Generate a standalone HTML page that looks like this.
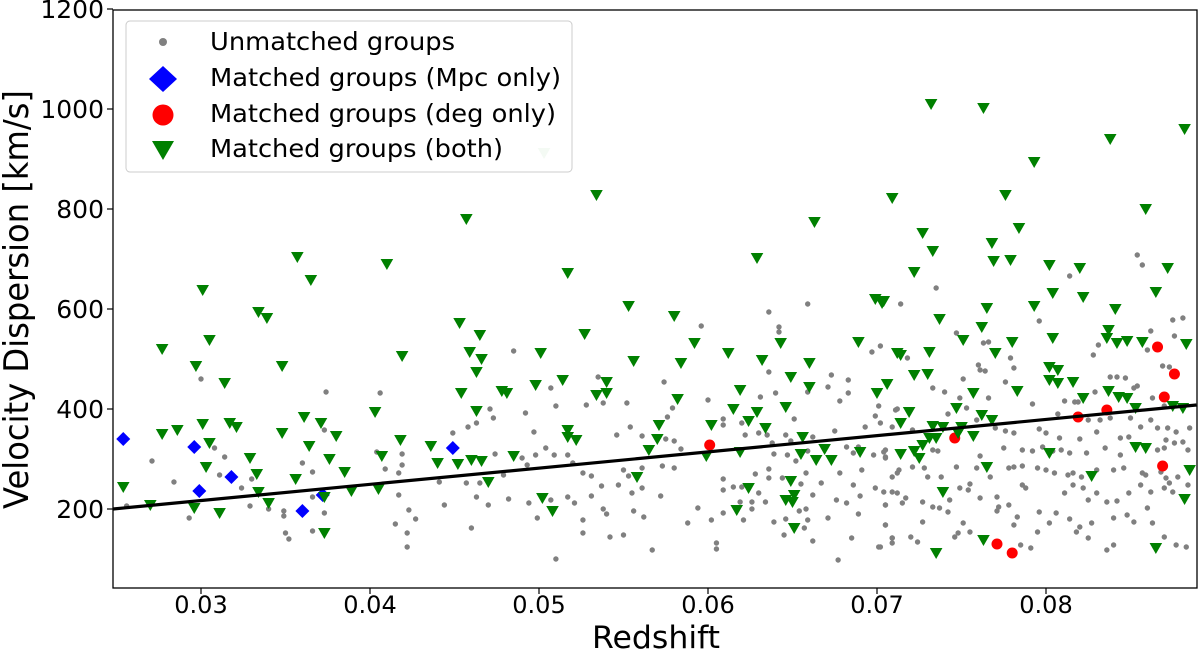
<!DOCTYPE html>
<html><head><meta charset="utf-8"><style>
html,body{margin:0;padding:0;background:#fff;}
svg{display:block;font-family:"DejaVu Sans","Liberation Sans",sans-serif;}
</style></head><body>
<svg id="chart" width="1200" height="652" viewBox="0 0 1200 652">
<rect x="113" y="10" width="1084" height="578" fill="#fff"/>
<g id="grayG"></g>
<g id="blueG"></g>
<g id="redG"></g>
<g id="greenG"></g>
<g id="lineG"></g>
<rect x="113" y="10" width="1084" height="578" fill="none" stroke="#000" stroke-width="1.3"/>
<g id="axes"></g>
<text x="592" y="648" font-size="31" textLength="128" lengthAdjust="spacingAndGlyphs">Redshift</text>
<text transform="translate(28,509) rotate(-90)" font-size="34" textLength="419" lengthAdjust="spacingAndGlyphs">Velocity Dispersion [km/s]</text>
<g>
<rect x="126" y="21" width="446" height="151" rx="4" fill="#fff" fill-opacity="0.8" stroke="#ccc"/>
<circle cx="163" cy="42" r="4" fill="#808080"/>
<text x="210" y="50" font-size="24.5" textLength="245" lengthAdjust="spacingAndGlyphs">Unmatched groups</text>
<path d="M163,66 L177,79 L163,92 L149,79 Z" fill="#0000ff"/>
<text x="210" y="86" font-size="24.5" textLength="351" lengthAdjust="spacingAndGlyphs">Matched groups (Mpc only)</text>
<circle cx="163" cy="115" r="10.5" fill="#ff0000"/>
<text x="210" y="122" font-size="24.5" textLength="346" lengthAdjust="spacingAndGlyphs">Matched groups (deg only)</text>
<path d="M152,141 L174,141 L163,160 Z" fill="#008000"/>
<text x="210" y="157" font-size="24.5" textLength="293" lengthAdjust="spacingAndGlyphs">Matched groups (both)</text>
</g>
</svg>
<script>
const xTicks=[0.03,0.04,0.05,0.06,0.07,0.08];
const xTickLabels=["0.03","0.04","0.05","0.06","0.07","0.08"];
const yTicks=[200,400,600,800,1000,1200];
const yTickLabels=["200","400","600","800","1000","1200"];
const fitZ=[0.0248,0.0889];
const fitV=[200,408];
const blueZ=[0.0254,0.0296,0.0299,0.0318,0.036,0.0372,0.0449];
const blueV=[340,324,236,264,196,228,322];
const redZ=[0.0601,0.0746,0.0771,0.078,0.0819,0.0836,0.0866,0.0876,0.087,0.0869];
const redV=[328,342,130,112,384,398,524,470,424,286];
const greenPts=[
[0.0732,1010],[0.0763,1002],[0.0882,960],[0.0838,940],[0.0793,894],[0.0709,822],[0.0776,828],[0.0859,800],[0.0727,752],[0.0784,762],[0.0733,716],[0.0768,732],[0.0769,696],[0.0779,698],[0.0722,674],[0.0802,688],[0.082,682],[0.0872,682],[0.0704,616],[0.0804,632],[0.0822,624],[0.0865,634],[0.0765,602],[0.0793,606],[0.0841,600],[0.0737,580],[0.0762,564],[0.0837,558],[0.0751,538],[0.078,534],[0.0804,542],[0.0836,542],[0.0842,532],[0.0848,536],[0.0857,534],[0.0883,530],[0.0714,508],[0.0731,514],[0.077,512],[0.0722,468],[0.073,470],[0.0706,450],[0.0802,484],[0.0807,478],[0.0802,458],[0.0807,452],[0.0816,454],[0.0757,432],[0.0783,436],[0.0837,436],[0.0822,422],[0.0843,424],[0.0848,422],[0.0719,394],[0.0747,402],[0.0762,388],[0.0768,378],[0.0714,372],[0.0733,366],[0.0739,364],[0.075,364],[0.0748,352],[0.0853,402],[0.0875,406],[0.0881,402],[0.0731,342],[0.0735,342],[0.0727,328],[0.0757,346],[0.0714,310],[0.0722,316],[0.0725,302],[0.0802,312],[0.0853,324],[0.0859,322],[0.0765,284],[0.0827,266],[0.0885,278],[0.0739,234],[0.0882,220],[0.0763,138],[0.0735,112],[0.0865,122],
[0.0534,828],[0.0663,774],[0.0629,702],[0.0517,672],[0.0553,606],[0.058,586],[0.0699,620],[0.0703,612],[0.0527,550],[0.0592,532],[0.0612,512],[0.0643,532],[0.0689,534],[0.0712,512],[0.0556,496],[0.0584,492],[0.0632,498],[0.066,492],[0.0514,458],[0.054,454],[0.0534,428],[0.054,432],[0.0649,464],[0.0619,438],[0.066,444],[0.07,432],[0.0582,420],[0.0615,400],[0.0629,394],[0.0646,404],[0.0624,376],[0.0571,368],[0.0602,368],[0.0634,362],[0.0517,358],[0.0517,344],[0.0522,338],[0.057,340],[0.0656,344],[0.0565,318],[0.0599,306],[0.0619,314],[0.0655,310],[0.0664,298],[0.0669,320],[0.0673,298],[0.069,314],[0.0558,264],[0.0649,256],[0.0624,242],[0.0651,228],[0.0646,218],[0.065,214],[0.0617,198],[0.0651,162],
[0.0457,780],[0.0357,704],[0.041,690],[0.0365,658],[0.0301,638],[0.0334,594],[0.0339,582],[0.0453,572],[0.0465,548],[0.0305,538],[0.0277,520],[0.0459,514],[0.0466,500],[0.0419,506],[0.0501,512],[0.0297,486],[0.0348,486],[0.0463,474],[0.0314,452],[0.0498,448],[0.0454,432],[0.0478,436],[0.0481,432],[0.0403,394],[0.0463,396],[0.0361,384],[0.0301,370],[0.0317,372],[0.0321,364],[0.0371,372],[0.0277,350],[0.0286,358],[0.0348,352],[0.038,346],[0.0418,338],[0.0305,332],[0.0364,326],[0.0436,326],[0.0407,306],[0.0329,302],[0.0376,300],[0.044,292],[0.0452,290],[0.046,298],[0.0466,296],[0.0485,306],[0.0303,284],[0.0333,270],[0.0385,274],[0.0356,260],[0.047,254],[0.0254,244],[0.0334,234],[0.0389,236],[0.0405,240],[0.0373,224],[0.034,212],[0.027,208],[0.0296,202],[0.0311,192],[0.0502,222],[0.0508,196],[0.0373,152]
];
const fadedGreen=[[0.0503,912]];
const grayPts=[
[0.03,460],[0.0374,434],[0.0406,432],[0.0485,516],[0.0507,442],[0.051,406],[0.0471,400],[0.0473,382],[0.0463,372],[0.0458,364],[0.0449,352],[0.0492,392],[0.0497,354],[0.0504,322],[0.0498,308],[0.0509,308],[0.0474,310],[0.049,302],[0.0493,288],[0.0479,268],[0.0457,252],[0.0465,252],[0.0441,254],[0.0463,224],[0.047,208],[0.0482,220],[0.0494,212],[0.0499,182],[0.0507,218],[0.0444,208],[0.046,162],[0.051,100],[0.0419,310],[0.0419,288],[0.0409,280],[0.0417,272],[0.0417,228],[0.0423,198],[0.0427,180],[0.0415,170],[0.0422,152],[0.0422,124],[0.0404,314],[0.0373,358],[0.036,292],[0.0366,274],[0.0366,224],[0.0373,192],[0.0366,156],[0.035,152],[0.0352,140],[0.0349,196],[0.0349,186],[0.034,200],[0.0329,206],[0.0324,242],[0.033,260],[0.0314,304],[0.0311,268],[0.0308,322],[0.0284,254],[0.0271,296],[0.0293,182],[0.0256,206],
[0.0659,610],[0.0636,594],[0.0642,564],[0.0642,554],[0.0596,566],[0.0636,474],[0.0673,468],[0.0683,458],[0.0702,526],[0.0697,514],[0.0574,454],[0.0535,464],[0.0528,408],[0.0552,412],[0.0538,412],[0.0579,402],[0.0576,384],[0.06,418],[0.0631,424],[0.064,432],[0.0659,434],[0.0671,444],[0.0683,432],[0.0678,416],[0.0651,380],[0.0609,380],[0.0609,368],[0.062,372],[0.0554,364],[0.0546,348],[0.0561,346],[0.0575,340],[0.058,336],[0.0584,320],[0.0622,348],[0.063,352],[0.0635,348],[0.0646,348],[0.0662,344],[0.0638,332],[0.0649,336],[0.0675,356],[0.0693,364],[0.0699,386],[0.0701,406],[0.0712,400],[0.0698,308],[0.0705,304],[0.0704,314],[0.0682,324],[0.0689,324],[0.0686,312],[0.0639,310],[0.0647,308],[0.0652,296],[0.0659,316],[0.0517,308],[0.052,292],[0.0526,272],[0.0531,266],[0.055,278],[0.0553,266],[0.0561,282],[0.0573,286],[0.058,282],[0.0517,224],[0.0521,212],[0.0531,226],[0.0537,246],[0.0547,248],[0.0555,232],[0.0561,242],[0.0538,200],[0.054,190],[0.0556,196],[0.0562,184],[0.0526,178],[0.0526,152],[0.0542,144],[0.055,148],[0.0567,118],[0.0572,226],[0.0588,172],[0.0594,202],[0.0602,178],[0.0605,132],[0.0605,120],[0.0609,260],[0.0609,238],[0.0615,244],[0.062,244],[0.0619,214],[0.0626,214],[0.0626,200],[0.0621,178],[0.0609,192],[0.0628,270],[0.063,232],[0.0634,214],[0.0636,280],[0.0636,262],[0.0639,174],[0.0644,262],[0.0646,180],[0.0645,148],[0.0655,250],[0.0654,196],[0.0658,200],[0.0659,178],[0.0657,162],[0.0662,136],[0.0662,228],[0.0658,272],[0.0667,252],[0.0671,182],[0.0676,218],[0.0682,212],[0.0686,248],[0.069,226],[0.0689,190],[0.0685,142],[0.0677,98],[0.0678,272],[0.0691,278],[0.0699,242],[0.0705,208],[0.0705,168],[0.0709,142],[0.0701,124],[0.0712,232],[0.0712,272],
[0.0854,708],[0.0857,688],[0.0814,666],[0.0735,642],[0.0714,610],[0.0796,576],[0.0875,578],[0.0881,582],[0.0747,552],[0.0763,532],[0.0766,534],[0.0862,556],[0.0876,546],[0.0831,528],[0.0828,508],[0.086,518],[0.0869,486],[0.0873,484],[0.0718,502],[0.0779,502],[0.0781,482],[0.076,488],[0.0761,478],[0.0764,476],[0.0838,464],[0.0842,464],[0.0847,462],[0.0751,460],[0.0776,454],[0.0733,442],[0.074,434],[0.0829,434],[0.0852,442],[0.0854,446],[0.0749,422],[0.0766,422],[0.0792,410],[0.0811,416],[0.0817,414],[0.0819,414],[0.0836,402],[0.0863,422],[0.087,406],[0.0711,398],[0.0742,390],[0.0753,402],[0.0759,378],[0.0807,390],[0.0825,378],[0.0832,378],[0.0838,382],[0.085,382],[0.0862,378],[0.0885,362],[0.0702,372],[0.0709,364],[0.0721,358],[0.077,362],[0.0776,356],[0.0781,352],[0.0796,360],[0.08,352],[0.0808,342],[0.082,340],[0.083,354],[0.0844,342],[0.0849,344],[0.0856,364],[0.0866,362],[0.0872,362],[0.0877,354],[0.0871,338],[0.0876,332],[0.0881,334],[0.0884,318],[0.0705,318],[0.0705,302],[0.0733,318],[0.0736,316],[0.0761,306],[0.0775,322],[0.0786,318],[0.0792,316],[0.0798,324],[0.0804,316],[0.0809,318],[0.0814,312],[0.0824,312],[0.0835,322],[0.0844,308],[0.0866,318],[0.087,322],[0.0709,264],[0.0713,278],[0.0717,222],[0.0721,284],[0.0728,282],[0.073,264],[0.0738,264],[0.0747,284],[0.0759,282],[0.0767,264],[0.0778,282],[0.0781,284],[0.0786,286],[0.0795,282],[0.08,278],[0.0805,272],[0.0813,268],[0.0816,272],[0.0821,264],[0.083,278],[0.084,278],[0.0846,282],[0.0857,272],[0.0859,268],[0.0868,274],[0.0871,262],[0.0873,252],[0.0878,264],[0.0884,248],[0.0875,234],[0.0704,234],[0.0709,234],[0.0715,212],[0.0727,214],[0.0737,202],[0.0743,218],[0.0749,242],[0.0755,250],[0.0754,238],[0.0761,222],[0.0771,224],[0.0772,204],[0.0778,208],[0.0786,248],[0.0788,242],[0.0796,194],[0.0806,192],[0.0811,232],[0.0816,248],[0.0822,242],[0.0825,218],[0.083,232],[0.0836,214],[0.0842,216],[0.0849,232],[0.0856,248],[0.0862,234],[0.087,242],[0.0705,208],[0.0705,168],[0.0727,174],[0.0733,204],[0.0742,194],[0.0751,172],[0.0755,154],[0.0746,144],[0.0771,196],[0.0781,168],[0.0783,184],[0.0791,122],[0.0795,154],[0.0802,172],[0.0814,180],[0.082,164],[0.0818,154],[0.0825,142],[0.0827,172],[0.0836,118],[0.084,128],[0.084,182],[0.0848,188],[0.0852,174],[0.086,202],[0.0863,172],[0.087,144],[0.0877,128],[0.0883,124],[0.0709,142],[0.0709,132],[0.072,144],[0.0724,134],[0.0702,124],[0.0748,152],[0.0785,128]
];

const NS="http://www.w3.org/2000/svg";
function xs(z){return 201+(z-0.03)*16900;}
function ys(v){return 509-(v-200)/2;}
function mk(tag,attrs,parent){const e=document.createElementNS(NS,tag);for(const k in attrs)e.setAttribute(k,attrs[k]);parent.appendChild(e);return e;}
const axes=document.getElementById('axes');
xTicks.forEach((t,i)=>{
  const l=mk('line',{x1:xs(t),x2:xs(t),y1:588,y2:594,stroke:'#000','stroke-width':1.2},axes);
  
  
  const tx=mk('text',{x:xs(t),y:613,'font-size':24,'text-anchor':'middle'},axes);
  tx.textContent=xTickLabels[i];
  
  
});
yTicks.forEach((t,i)=>{
  const l=mk('line',{x1:107,x2:113,y1:ys(t),y2:ys(t),stroke:'#000','stroke-width':1.2},axes);
  
  
  const tx=mk('text',{x:104,y:ys(t)+9,'font-size':25,'text-anchor':'end'},axes);
  tx.textContent=yTickLabels[i];
  
  
});
const gG=document.getElementById('grayG');
grayPts.forEach(p=>{
  const c=mk('circle',{cx:xs(p[0]),cy:ys(p[1]),r:2.7,fill:'#808080'},gG);
  
  
});
const bG=document.getElementById('blueG');
blueZ.forEach((z,i)=>{
  const x=xs(z),y=ys(blueV[i]);
  const d=mk('path',{d:`M${x},${y-7} L${x+7},${y} L${x},${y+7} L${x-7},${y} Z`,fill:'#0000ff'},bG);
  
  
});
const rG=document.getElementById('redG');
redZ.forEach((z,i)=>{
  const c=mk('circle',{cx:xs(z),cy:ys(redV[i]),r:5.5,fill:'#ff0000'},rG);
  
  
});
const grG=document.getElementById('greenG');
function tri(p,fill){
  const x=xs(p[0]),y=ys(p[1]);
  return mk('path',{d:`M${x-6.3},${y-5} L${x+6.3},${y-5} L${x},${y+6} Z`,fill:fill},grG);
}
greenPts.forEach(p=>{
  const t=tri(p,'#008000');
  
  
});
fadedGreen.forEach(p=>{
  const t=tri(p,'#c8e6c8');
  
  
});
const lG=document.getElementById('lineG');
const fl=mk('line',{x1:xs(fitZ[0]),y1:ys(fitV[0]),x2:xs(fitZ[1]),y2:ys(fitV[1]),stroke:'#000','stroke-width':3.2},lG);


</script>
</body></html>
